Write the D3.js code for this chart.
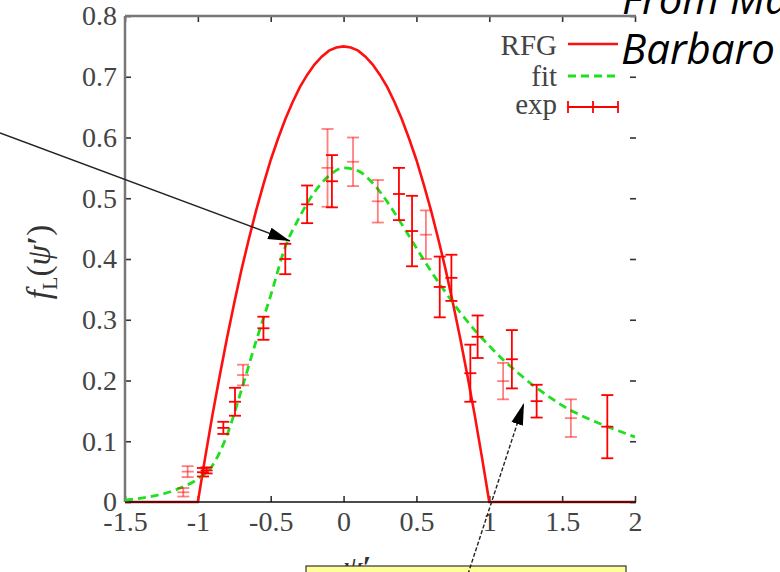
<!DOCTYPE html>
<html>
<head>
<meta charset="utf-8">
<script src="https://d3js.org/d3.v7.min.js"></script>
</head>
<body style="margin:0; background:#fff">
<div id="svgcontainer"></div>
<script>
    // tick labels
    var xTicks = [-1.5, -1, -0.5, 0, 0.5, 1, 1.5, 2];
    var yTicks = [0, 0.1, 0.2, 0.3, 0.4, 0.5, 0.6, 0.7, 0.8];

    // RFG curve
    var rfgX = [-1.5, -1.0, -0.95, -0.9, -0.85, -0.8, -0.75, -0.7, -0.65, -0.6, -0.55, -0.5, -0.45, -0.4, -0.35, -0.3, -0.25, -0.2, -0.15, -0.1, -0.05,
                0, 0.05, 0.1, 0.15, 0.2, 0.25, 0.3, 0.35, 0.4, 0.45, 0.5, 0.55, 0.6, 0.65, 0.7, 0.75, 0.8, 0.85, 0.9, 0.95, 1.0, 2.0];
    var rfgY = [0, 0, 0.073, 0.143, 0.208, 0.27, 0.328, 0.383, 0.433, 0.48, 0.523, 0.563, 0.598, 0.63, 0.658, 0.683, 0.703, 0.72, 0.733, 0.743, 0.748,
                0.75, 0.748, 0.743, 0.733, 0.72, 0.703, 0.683, 0.658, 0.63, 0.598, 0.563, 0.523, 0.48, 0.433, 0.383, 0.328, 0.27, 0.208, 0.143, 0.073, 0, 0];

    // fit curve
    var fitX = [-1.5, -1.4, -1.3, -1.2, -1.1, -1.0, -0.9, -0.8, -0.7, -0.6, -0.5, -0.4, -0.3, -0.2, -0.1, 0, 0.1, 0.2, 0.3, 0.4, 0.5,
                0.6, 0.7, 0.8, 0.9, 1.0, 1.1, 1.2, 1.3, 1.4, 1.5, 1.6, 1.7, 1.8, 1.9, 2.0];
    var fitY = [0.003, 0.006, 0.010, 0.016, 0.025, 0.038, 0.06, 0.11, 0.185, 0.265, 0.34, 0.42, 0.47, 0.51, 0.537, 0.55, 0.545, 0.525, 0.494, 0.457, 0.418,
                0.38, 0.345, 0.312, 0.283, 0.257, 0.233, 0.212, 0.192, 0.175, 0.159, 0.146, 0.135, 0.125, 0.116, 0.107];

    // experimental points, first set (bright)
    var expX = [-0.965, -0.94, -0.825, -0.745, -0.55, -0.40, -0.25, -0.08, 0.38, 0.47, 0.66, 0.74, 0.87, 0.92, 1.155, 1.325, 1.81];
    var expY = [0.049, 0.052, 0.122, 0.165, 0.286, 0.40, 0.49, 0.528, 0.507, 0.446, 0.354, 0.369, 0.212, 0.272, 0.235, 0.166, 0.124];
    var expErr = [0.007, 0.005, 0.01, 0.023, 0.019, 0.025, 0.031, 0.043, 0.043, 0.058, 0.05, 0.038, 0.047, 0.035, 0.048, 0.027, 0.052];

    // experimental points, second set (faint)
    var exp2X = [-1.10, -1.07, -0.69, -0.11, 0.065, 0.235, 0.565, 1.095, 1.56];
    var exp2Y = [0.016, 0.05, 0.209, 0.55, 0.56, 0.495, 0.44, 0.199, 0.138];
    var exp2Err = [0.007, 0.009, 0.017, 0.064, 0.04, 0.035, 0.04, 0.03, 0.031];

    var width = 780, height = 572;
    var svg = d3.select("#svgcontainer")
        .append("svg")
        .attr("width", width)
        .attr("height", height)
        .style("display", "block");

    var x = d3.scaleLinear().domain([-1.5, 2]).range([125, 635]);
    var y = d3.scaleLinear().domain([0, 0.8]).range([502, 16]);

    var defs = svg.append("defs");
    defs.append("marker")
        .attr("id", "head")
        .attr("markerUnits", "userSpaceOnUse")
        .attr("viewBox", "0 -7 22 14")
        .attr("refX", 22).attr("refY", 0)
        .attr("markerWidth", 22).attr("markerHeight", 14)
        .attr("orient", "auto")
        .append("path")
        .attr("d", "M0,-6L22,0L0,6Z")
        .attr("fill", "#000");

    var tickFont = "'Liberation Serif', 'DejaVu Serif', serif";

    // axes (ticks pointing inward)
    var fmt = function (d) { return String(d); };
    svg.append("g")
        .attr("transform", "translate(0," + y(0) + ")")
        .call(d3.axisBottom(x).tickValues(xTicks).tickSizeInner(-6).tickSizeOuter(0).tickPadding(9).tickFormat(fmt))
        .call(g => g.select(".domain").remove());
    svg.append("g")
        .attr("transform", "translate(0," + y(0.8) + ")")
        .call(d3.axisTop(x).tickValues(xTicks).tickSizeInner(-6).tickSizeOuter(0).tickFormat(""))
        .call(g => g.select(".domain").remove());
    svg.append("g")
        .attr("transform", "translate(" + x(-1.5) + ",0)")
        .call(d3.axisLeft(y).tickValues(yTicks).tickSizeInner(-6).tickSizeOuter(0).tickPadding(8).tickFormat(fmt))
        .call(g => g.select(".domain").remove());
    svg.append("g")
        .attr("transform", "translate(" + (x(2) + 1) + ",0)")
        .call(d3.axisRight(y).tickValues(yTicks).tickSizeInner(-6).tickSizeOuter(0).tickFormat(""))
        .call(g => g.select(".domain").remove());

    svg.selectAll(".tick line").attr("stroke", "#333").attr("stroke-width", 1.6);
    svg.selectAll(".tick text")
        .attr("font-family", tickFont)
        .attr("font-size", "28px")
        .attr("fill", "#444");

    // frame
    svg.append("line").attr("x1", x(-1.5)).attr("x2", x(2) + 1).attr("y1", y(0.8)).attr("y2", y(0.8))
        .attr("stroke", "#777").attr("stroke-width", 2.5);
    svg.append("line").attr("x1", x(-1.5)).attr("x2", x(-1.5)).attr("y1", y(0.8)).attr("y2", y(0))
        .attr("stroke", "#777").attr("stroke-width", 2.5);

    // RFG curve
    var rfgData = rfgX.map((d, k) => [d, rfgY[k]]);
    svg.append("path")
        .datum(rfgData)
        .attr("d", d3.line().x(d => x(d[0])).y(d => y(d[1])))
        .attr("fill", "none")
        .attr("stroke", "#ff1010")
        .attr("stroke-width", 2.6);

    svg.append("line").attr("x1", x(-1.5)).attr("x2", x(2) + 1).attr("y1", y(0)).attr("y2", y(0))
        .attr("stroke", "#111").attr("stroke-width", 1.5);

    // fit curve
    var fitData = fitX.map((d, k) => [d, fitY[k]]);
    svg.append("path")
        .datum(fitData)
        .attr("d", d3.line().curve(d3.curveMonotoneX).x(d => x(d[0])).y(d => y(d[1])))
        .attr("fill", "none")
        .attr("stroke", "#1ee01e")
        .attr("stroke-width", 2.8)
        .attr("stroke-dasharray", "8,5");

    // error bars
    function errorBars(xs, ys, es, opacity) {
        var pts = xs.map((d, k) => ({ x: d, y: ys[k], e: es[k] }));
        var g = svg.append("g")
            .attr("stroke", "#ff0000")
            .attr("stroke-width", 1.8)
            .attr("stroke-opacity", opacity);
        var bar = g.selectAll("g").data(pts).join("g");
        bar.append("line")
            .attr("x1", d => x(d.x)).attr("x2", d => x(d.x))
            .attr("y1", d => y(d.y + d.e)).attr("y2", d => y(d.y - d.e));
        [1, 0, -1].forEach(function (s) {
            bar.append("line")
                .attr("x1", d => x(d.x) - 6).attr("x2", d => x(d.x) + 6)
                .attr("y1", d => y(d.y + s * d.e)).attr("y2", d => y(d.y + s * d.e));
        });
    }
    errorBars(exp2X, exp2Y, exp2Err, 0.5);
    errorBars(expX, expY, expErr, 1);

    // legend
    var legendFont = "'Liberation Serif', 'DejaVu Serif', serif";
    var legendNames = ["RFG", "fit", "exp"];
    var legendBase = [55, 86, 114];
    var legendMid = [44, 76, 107];
    legendNames.forEach(function (n, k) {
        svg.append("text")
            .attr("x", 557).attr("y", legendBase[k])
            .attr("text-anchor", "end")
            .attr("font-family", legendFont)
            .attr("font-size", "29px")
            .attr("fill", "#444")
            .text(n);
    });
    svg.append("line").attr("x1", 568).attr("x2", 618).attr("y1", legendMid[0]).attr("y2", legendMid[0])
        .attr("stroke", "#ff1010").attr("stroke-width", 2.6);
    svg.append("line").attr("x1", 568).attr("x2", 618).attr("y1", legendMid[1]).attr("y2", legendMid[1])
        .attr("stroke", "#1ee01e").attr("stroke-width", 2.8).attr("stroke-dasharray", "8,5");
    var lg = svg.append("g").attr("stroke", "#ff0000").attr("stroke-width", 1.8);
    lg.append("line").attr("x1", 568).attr("x2", 618).attr("y1", legendMid[2]).attr("y2", legendMid[2]);
    [568, 593, 618].forEach(function (px) {
        lg.append("line").attr("x1", px).attr("x2", px).attr("y1", legendMid[2] - 6).attr("y2", legendMid[2] + 6);
    });

    // axis titles
    var yl = svg.append("text")
        .attr("transform", "translate(50,262) rotate(-90)")
        .attr("text-anchor", "middle")
        .attr("font-family", tickFont)
        .attr("font-size", "33px")
        .attr("fill", "#333");
    yl.append("tspan").attr("font-style", "italic").text("f");
    yl.append("tspan").attr("font-size", "22px").attr("dy", 7).text("L");
    yl.append("tspan").attr("dy", -7).text("(");
    yl.append("tspan").attr("font-style", "italic").text("ψ");
    yl.append("tspan").attr("font-weight", "bold").text("′");
    yl.append("tspan").text(")");

    var xl = svg.append("text")
        .attr("x", 357).attr("y", 578)
        .attr("text-anchor", "middle")
        .attr("font-family", tickFont)
        .attr("font-size", "32px")
        .attr("fill", "#333");
    xl.append("tspan").attr("font-style", "italic").text("ψ");
    xl.append("tspan").attr("font-weight", "bold").text("′");

    // yellow note box at bottom
    svg.append("rect")
        .attr("x", 306).attr("y", 566).attr("width", 320).attr("height", 20)
        .attr("fill", "#ffff99").attr("stroke", "#333").attr("stroke-width", 1.2);

    // arrows
    svg.append("line")
        .attr("x1", 0).attr("y1", 133).attr("x2", 290).attr("y2", 241)
        .attr("stroke", "#222").attr("stroke-width", 1.4)
        .attr("marker-end", "url(#head)");
    svg.append("line")
        .attr("x1", 468).attr("y1", 574).attr("x2", 524).attr("y2", 403)
        .attr("stroke", "#222").attr("stroke-width", 1.4)
        .attr("stroke-dasharray", "4,2")
        .attr("marker-end", "url(#head)");

    // overlaid caption text
    var capFont = "'Open Sans', 'Noto Sans', sans-serif";
    svg.append("text").attr("x", 622).attr("y", 14)
        .attr("font-family", capFont).attr("font-style", "italic").attr("font-size", "42px")
        .attr("fill", "#000").text("From Ma");
    svg.append("text").attr("x", 621).attr("y", 64)
        .attr("font-family", capFont).attr("font-style", "italic").attr("font-size", "42px")
        .attr("fill", "#000").text("Barbaro");
</script>
</body>
</html>
